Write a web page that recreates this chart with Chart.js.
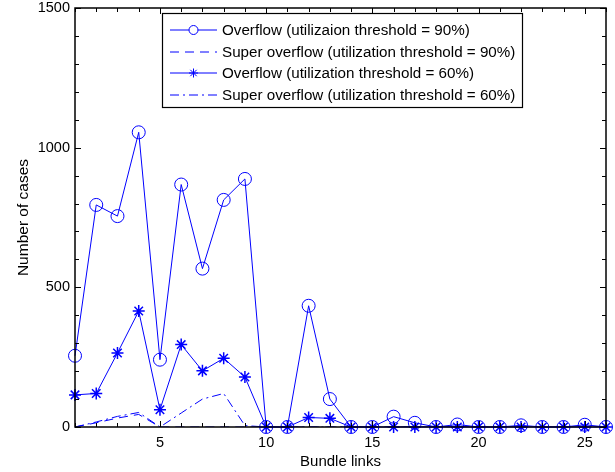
<html>
<head>
<script src="https://cdn.jsdelivr.net/npm/chart.js"></script>
<style>
    body { margin: 0; background: #fff; }
</style>
</head>
<body>
<div style="width:615px;height:472px">
    <canvas id="chart" width="615" height="472"></canvas>
</div>
<script>
    // values
    var bundleLinks = [1, 2, 3, 4, 5, 6, 7, 8, 9, 10, 11, 12, 13, 14, 15, 16, 17, 18, 19, 20, 21, 22, 23, 24, 25, 26];
    var overflow90 = [255, 795, 755, 1055, 241, 868, 567, 813, 888, 0, 0, 434, 100, 0, 0, 37, 15, 0, 9, 0, 0, 6, 0, 0, 8, 0];
    var superOverflow90 = [0, 15, 32, 45, 0, 0, 0, 0, 0, 0, 0, 0, 0, 0, 0, 0, 0, 0, 0, 0, 0, 0, 0, 0, 0, 0];
    var overflow60 = [115, 120, 265, 415, 62, 295, 201, 246, 179, 0, 0, 34, 31, 0, 0, 0, 0, 0, 0, 0, 0, 0, 0, 0, 0, 0];
    var superOverflow60 = [0, 18, 38, 52, 0, 50, 100, 120, 5, 0, 0, 0, 0, 0, 0, 0, 0, 0, 0, 0, 0, 0, 0, 0, 0, 0];
    var xTicks = [5, 10, 15, 20, 25];
    var yTicks = [0, 500, 1000, 1500];

    var blue = 'rgb(0, 0, 255)';
    var font = "'Liberation Sans', Arial, sans-serif";

    function pts(values) {
        return values.map(function (v, i) { return { x: bundleLinks[i], y: v }; });
    }

    // matlab style box with inward ticks
    var boxPlugin = {
        id: 'box',
        afterDraw: function (chart) {
            var ctx = chart.ctx;
            var a = chart.chartArea;
            var xs = chart.scales.x, ys = chart.scales.y;
            ctx.save();
            ctx.strokeStyle = '#000';
            ctx.lineWidth = 1;
            ctx.beginPath();
            for (var v = 1; v <= 26; v++) {
                var px = Math.round(xs.getPixelForValue(v)) + 0.5;
                var len = (v % 5 === 0) ? 6 : 4;
                ctx.moveTo(px, a.bottom); ctx.lineTo(px, a.bottom - len);
                ctx.moveTo(px, a.top); ctx.lineTo(px, a.top + len);
            }
            for (var w = 0; w <= 1500; w += 100) {
                var py = Math.round(ys.getPixelForValue(w)) + 0.5;
                var l2 = (w % 500 === 0) ? 6 : 4;
                ctx.moveTo(a.left, py); ctx.lineTo(a.left + l2, py);
                ctx.moveTo(a.right, py); ctx.lineTo(a.right - l2, py);
            }
            ctx.stroke();
            ctx.lineWidth = 1.5;
            ctx.strokeRect(Math.round(a.left), Math.round(a.top), Math.round(a.right - a.left), Math.round(a.bottom - a.top));
            ctx.restore();
        }
    };

    // legend drawn inside the plot, like the original
    var legendPlugin = {
        id: 'innerLegend',
        afterDraw: function (chart) {
            var ctx = chart.ctx;
            var bx = 162, by = 13, bw = 360, bh = 94;
            ctx.save();
            ctx.fillStyle = '#fff';
            ctx.fillRect(bx, by, bw, bh);
            ctx.strokeStyle = '#000';
            ctx.lineWidth = 1.2;
            ctx.strokeRect(bx + 0.5, by + 0.5, bw, bh);
            ctx.font = '15.2px ' + font;
            ctx.textBaseline = 'middle';
            chart.data.datasets.forEach(function (ds, i) {
                var cy = Math.round(by + 17 + i * 21.5);
                ctx.strokeStyle = ds.borderColor;
                ctx.lineWidth = 1;
                ctx.setLineDash(ds.borderDash || []);
                ctx.beginPath();
                ctx.moveTo(170, cy);
                ctx.lineTo(217, cy);
                ctx.stroke();
                ctx.setLineDash([]);
                if (ds.legendMarker) {
                    Chart.helpers.drawPoint(ctx, {
                        pointStyle: ds.pointStyle,
                        radius: ds.legendMarker,
                        borderWidth: 1
                    }, 193.5, cy);
                }
                ctx.fillStyle = '#000';
                ctx.fillText(ds.label, 222, cy + 1);
            });
            ctx.restore();
        }
    };

    var config = {
        type: 'line',
        data: {
            datasets: [{
                label: 'Overflow (utilizaion threshold = 90%)',
                data: pts(overflow90),
                borderColor: blue,
                backgroundColor: 'rgba(0,0,0,0)',
                borderWidth: 1,
                pointStyle: 'circle',
                pointRadius: 6.5,
                pointBorderWidth: 1,
                pointBorderColor: blue,
                pointBackgroundColor: 'rgba(0,0,0,0)',
                legendMarker: 4.5,
                clip: false
            }, {
                label: 'Super overflow (utilization threshold = 90%)',
                data: pts(superOverflow90),
                borderColor: blue,
                borderWidth: 1,
                borderDash: [9, 6],
                pointRadius: 0
            }, {
                label: 'Overflow (utilization threshold = 60%)',
                data: pts(overflow60),
                borderColor: blue,
                backgroundColor: 'rgba(0,0,0,0)',
                borderWidth: 1,
                pointStyle: 'star',
                pointRadius: 6,
                pointBorderWidth: 1.5,
                pointBorderColor: blue,
                legendMarker: 4.5,
                clip: false
            }, {
                label: 'Super overflow (utilization threshold = 60%)',
                data: pts(superOverflow60),
                borderColor: blue,
                borderWidth: 1,
                borderDash: [9, 4, 2, 4],
                pointRadius: 0
            }]
        },
        options: {
            responsive: false,
            animation: false,
            layout: { padding: { left: 0, top: 8, right: 9, bottom: 0 } },
            plugins: {
                legend: { display: false },
                tooltip: { enabled: false }
            },
            scales: {
                x: {
                    type: 'linear',
                    min: 1,
                    max: 26,
                    grid: { display: false, drawTicks: false },
                    border: { display: false },
                    afterBuildTicks: function (scale) {
                        scale.ticks = xTicks.map(function (v) { return { value: v }; });
                    },
                    afterFit: function (scale) {
                        scale.height = 45;
                        scale.paddingLeft = 0;
                        scale.paddingRight = 0;
                    },
                    ticks: {
                        padding: 7,
                        maxRotation: 0,
                        color: '#000',
                        font: { family: font, size: 14.5 },
                        callback: function (v) { return String(v); }
                    },
                    title: {
                        display: true,
                        text: 'Bundle links',
                        color: '#000',
                        font: { family: font, size: 15 },
                        padding: { top: 0, bottom: 1 }
                    }
                },
                y: {
                    type: 'linear',
                    min: 0,
                    max: 1500,
                    grid: { display: false, drawTicks: false },
                    border: { display: false },
                    afterBuildTicks: function (scale) {
                        scale.ticks = yTicks.map(function (v) { return { value: v }; });
                    },
                    afterFit: function (scale) {
                        scale.width = 75;
                        scale.paddingTop = 0;
                        scale.paddingBottom = 0;
                    },
                    ticks: {
                        padding: 5,
                        color: '#000',
                        font: { family: font, size: 14.5 },
                        callback: function (v) { return String(v); }
                    },
                    title: {
                        display: true,
                        text: 'Number of cases',
                        color: '#000',
                        font: { family: font, size: 15.5 },
                        padding: { top: 14, bottom: 0 }
                    }
                }
            }
        },
        plugins: [boxPlugin, legendPlugin]
    };

    var myChart = new Chart(document.getElementById('chart'), config);
</script>
</body>
</html>
